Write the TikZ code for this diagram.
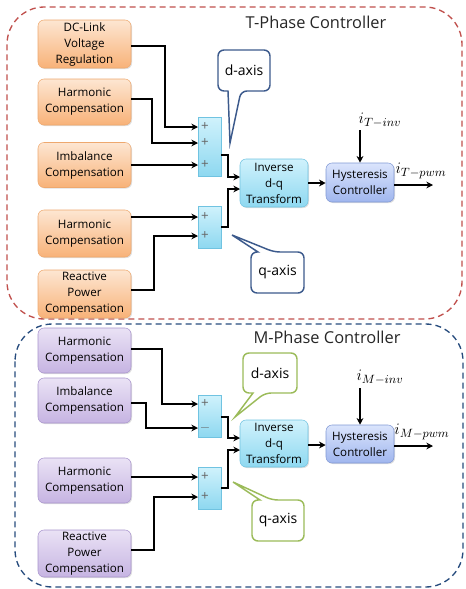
\documentclass[tikz,border=0pt]{standalone}
\usepackage{fontspec}
\setmainfont{Open Sans}
\usetikzlibrary{arrows.meta,shadows}
\definecolor{orT}{RGB}{253,230,210}
\definecolor{orB}{RGB}{248,178,120}
\definecolor{orD}{RGB}{238,168,110}
\definecolor{puT}{RGB}{234,226,245}
\definecolor{puB}{RGB}{198,180,226}
\definecolor{puD}{RGB}{168,148,205}
\definecolor{cyT}{RGB}{208,242,252}
\definecolor{cyB}{RGB}{142,216,240}
\definecolor{cyD}{RGB}{112,195,225}
\definecolor{hyT}{RGB}{218,228,252}
\definecolor{hyB}{RGB}{160,182,238}
\definecolor{hyD}{RGB}{128,152,212}
\definecolor{redD}{RGB}{192,80,77}
\definecolor{bluD}{RGB}{38,75,125}
\definecolor{calB}{RGB}{60,90,140}
\definecolor{calG}{RGB}{155,187,89}
\begin{document}
\begin{tikzpicture}[x=0.75pt,y=-0.75pt,
  shd/.style={drop shadow={shadow xshift=0.8pt,shadow yshift=-0.8pt,opacity=0.25}},
  comp/.style={shd,rounded corners=4.5pt,draw=orD,top color=orT,bottom color=orB,
    minimum width=69.75pt,inner sep=0pt,align=center,font=\fontsize{8.7}{12}\selectfont},
  compm/.style={comp,draw=puD,top color=puT,bottom color=puB},
  sumbox/.style={shd,draw=cyD,top color=cyT,bottom color=cyB,minimum width=17.25pt,inner sep=0pt},
  invbox/.style={comp,draw=cyD,top color=cyT,bottom color=cyB,minimum width=51pt},
  hysbox/.style={comp,draw=hyD,top color=hyT,bottom color=hyB,minimum width=51pt},
  sgn/.style={text=black!60,font=\fontsize{10}{10}\selectfont,inner sep=0pt},
  arr/.style={line width=1.1pt,-{Stealth[length=5pt,width=5pt]}},
  calT/.style={draw=calB,line width=1.1pt,fill=white},
  calM/.style={draw=calG,line width=1.1pt,fill=white},
  ctext/.style={font=\fontsize{10.5}{12}\selectfont,inner sep=0pt},
  ttl/.style={font=\fontsize{12.3}{14}\selectfont,text=black!85},
  mlab/.style={font=\fontsize{13}{15}\selectfont,inner sep=0pt}]
\useasboundingbox (0,0) rectangle (465,589);
% outer frames
\draw[redD,dashed,dash pattern=on 4.5pt off 3pt,line width=1pt,rounded corners=28pt] (7,7) rectangle (462,319);
\draw[bluD,dashed,dash pattern=on 4.5pt off 3pt,line width=1pt,rounded corners=28pt] (15,324) rectangle (463,587);
\node[ttl] (tT) at (316,22) {T-Phase Controller};
\node[ttl] (tM) at (327,337) {M-Phase Controller};

% ---------------- T phase ----------------
\node[comp,minimum height=36pt] (dc) at (84.5,44) {DC-Link\\Voltage\\Regulation};
\node[comp,minimum height=34.5pt] (h1) at (84.5,102) {Harmonic\\Compensation};
\node[comp,minimum height=33.75pt] (im1) at (84.5,165) {Imbalance\\Compensation};
\node[comp,minimum height=35.25pt] (h2) at (84.5,233.5) {Harmonic\\Compensation};
\node[comp,minimum height=36pt] (rp) at (84.5,294) {Reactive\\Power\\Compensation};

\node[sumbox,minimum height=44.25pt] (s1) at (209.5,146.5) {};
\node[sumbox,minimum height=31.5pt] (s2) at (209.5,227) {};
\node[sgn] (s1a) at (205,127) {+};
\node[sgn] (s1b) at (205,143) {+};
\node[sgn] (s1c) at (205,165) {+};
\node[sgn] (s2a) at (205,217) {+};
\node[sgn] (s2b) at (205,236) {+};

\node[invbox,minimum height=36pt] (inv) at (274,183) {Inverse\\d-q\\Transform};
\node[hysbox,minimum height=29.25pt] (hys) at (360,182.5) {Hysteresis\\Controller};

\coordinate (i1) at (198,127);
\coordinate (i2) at (198,143);
\coordinate (i3) at (198,165);
\coordinate (i4) at (198,217);
\coordinate (i5) at (198,236);
\coordinate (k1) at (165,46);
\coordinate (k2) at (152,99);
\coordinate (k5) at (154,290);
\draw[arr] (dc.east |- k1) -- (k1) |- (i1);
\draw[arr] (h1.east |- k2) -- (k2) |- (i2);
\draw[arr] (im1.east |- i3) -- (i3);
\draw[arr] (h2.east |- i4) -- (i4);
\draw[arr] (rp.east |- k5) -- (k5) |- (i5);

\coordinate (k6) at (228,155);
\coordinate (k7) at (228,227);
\coordinate (v1) at (240,177);
\coordinate (v2) at (240,189);
\draw[arr] (s1.east |- k6) -- (k6) |- (v1);
\draw[arr] (s2.east |- k7) -- (k7) |- (v2);
\draw[arr] (inv.east) -- (inv.east -| hys.west);

\node[mlab] (iTinv) at (380,120) {$i_{T-inv}$};
\coordinate (k9) at (360,130);
\draw[arr] (k9) -- (hys.north);
\coordinate (oT) at (433,185);
\draw[arr] (hys.east |- oT) -- (oT);
\node[mlab] (iTpwm) at (421,171) {$i_{T-pwm}$};

% callouts T
\draw[calT] (241,91) -- (230,143) -- (228,91) [rounded corners=4.5pt] -- (218,91) -- (218,50) -- (270,50) -- (270,91) -- cycle;
\node[ctext] (dT) at (244,70.5) {d-axis};
\draw[calT] (274,252) -- (232,235) -- (258,252) [rounded corners=4.5pt] -- (251,252) -- (251,293) -- (304,293) -- (304,252) -- cycle;
\node[ctext] (qT) at (277.5,272.5) {q-axis};

% ---------------- M phase ----------------
\node[compm,minimum height=33.75pt] (mh1) at (84.5,350.5) {Harmonic\\Compensation};
\node[compm,minimum height=33.75pt] (mim) at (84.5,400.5) {Imbalance\\Compensation};
\node[compm,minimum height=33.75pt] (mh2) at (84.5,480.5) {Harmonic\\Compensation};
\node[compm,minimum height=35.25pt] (mrp) at (84.5,553.5) {Reactive\\Power\\Compensation};

\node[sumbox,minimum height=31.5pt] (ms1) at (209.5,416) {};
\node[sumbox,minimum height=31.5pt] (ms2) at (209.5,488) {};
\node[sgn] (m1a) at (205,404) {+};
\node[sgn] (m1b) at (205,428) {$-$};
\node[sgn] (m2a) at (205,477) {+};
\node[sgn] (m2b) at (205,497) {+};

\node[invbox,minimum height=35.25pt] (minv) at (274,443.5) {Inverse\\d-q\\Transform};
\node[hysbox,minimum height=28.5pt] (mhys) at (360,444) {Hysteresis\\Controller};

\coordinate (j1) at (198,404);
\coordinate (j2) at (198,428);
\coordinate (j3) at (198,477);
\coordinate (j4) at (198,497);
\coordinate (n1) at (162,349);
\coordinate (n2) at (146,403);
\coordinate (n4) at (154,550);
\draw[arr] (mh1.east |- n1) -- (n1) |- (j1);
\draw[arr] (mim.east |- n2) -- (n2) |- (j2);
\draw[arr] (mh2.east |- j3) -- (j3);
\draw[arr] (mrp.east |- n4) -- (n4) |- (j4);

\coordinate (n6) at (228,417);
\coordinate (n7) at (228,488);
\coordinate (w1) at (240,438);
\coordinate (w2) at (240,450);
\draw[arr] (ms1.east |- n6) -- (n6) |- (w1);
\draw[arr] (ms2.east |- n7) -- (n7) |- (w2);
\coordinate (n8) at (300,445);
\draw[arr] (minv.east |- n8) -- (n8 -| mhys.west);

\node[mlab] (iMinv) at (380,377) {$i_{M-inv}$};
\coordinate (n9) at (360,388);
\draw[arr] (n9) -- (mhys.north);
\coordinate (oM) at (433,446);
\draw[arr] (mhys.east |- oM) -- (oM);
\node[mlab] (iMpwm) at (422,432) {$i_{M-pwm}$};

% callouts M
\draw[calM] (265,393) -- (235,417) -- (253,393) [rounded corners=4.5pt] -- (243,393) -- (243,353) -- (297,353) -- (297,393) -- cycle;
\node[ctext] (dM) at (270,373) {d-axis};
\draw[calM] (272,500) -- (233,482) -- (260,500) [rounded corners=4.5pt] -- (252,500) -- (252,541) -- (304,541) -- (304,500) -- cycle;
\node[ctext] (qM) at (278,520.5) {q-axis};
\end{tikzpicture}
\end{document}
